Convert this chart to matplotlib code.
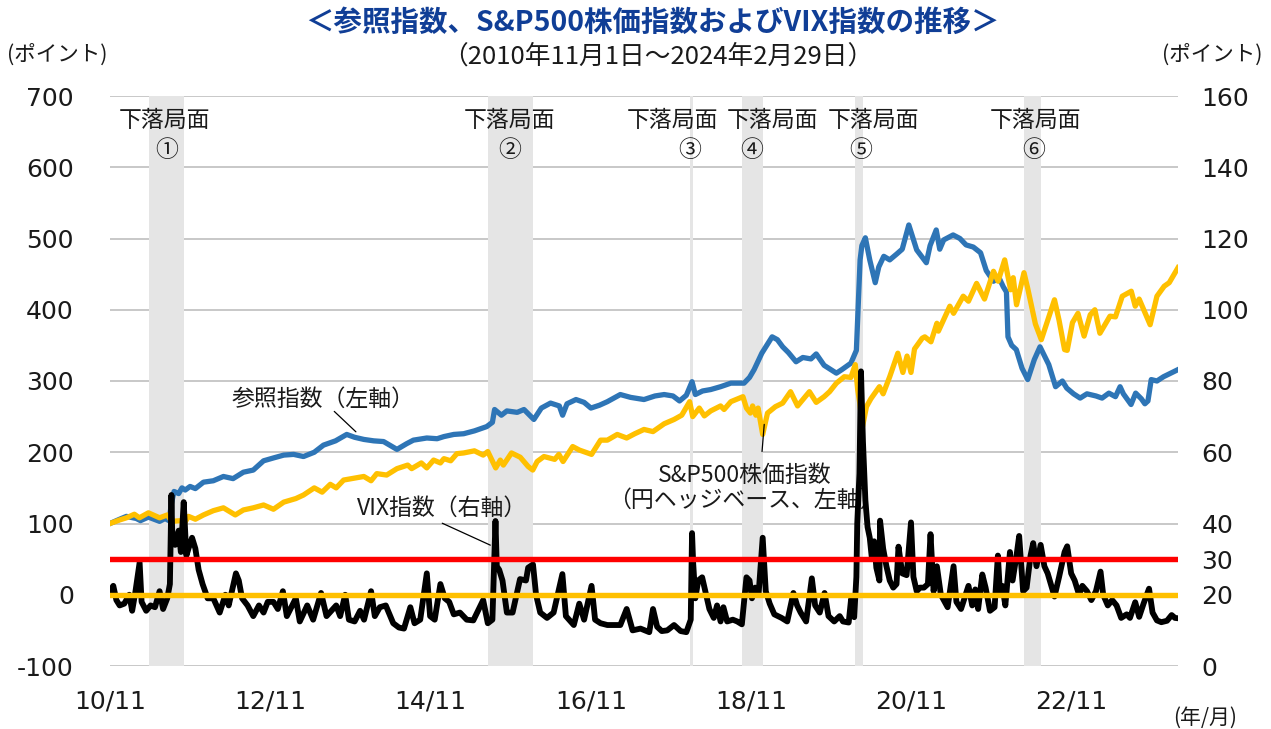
import matplotlib
matplotlib.use("Agg")
import matplotlib.pyplot as plt
import matplotlib.dates as mdates
import matplotlib.transforms as mtransforms
import pandas as pd

# ---------------- data ----------------
ref_dates = ["2010-11-01","2010-12-15","2011-01-15","2011-03-01","2011-03-20","2011-04-25","2011-06-15","2011-07-10",
             "2011-07-28","2011-08-08","2011-08-20","2011-09-10","2011-09-25","2011-10-10","2011-11-01","2011-11-25",
             "2012-01-01","2012-02-15","2012-04-01","2012-05-15","2012-07-01","2012-08-15","2012-10-01","2012-11-15",
             "2013-01-01","2013-02-15","2013-04-01","2013-05-20","2013-07-01","2013-08-25","2013-10-15","2013-11-20",
             "2014-01-01","2014-02-15","2014-04-01","2014-06-01","2014-07-15","2014-08-15","2014-10-15","2014-12-01",
             "2015-01-01","2015-02-15","2015-04-01","2015-05-20","2015-07-15","2015-08-10","2015-08-20","2015-09-20",
             "2015-10-15","2015-12-01","2016-01-01","2016-02-15","2016-03-20","2016-05-01","2016-06-10","2016-06-25",
             "2016-07-15","2016-08-25","2016-10-01","2016-11-01","2016-12-10","2017-01-15","2017-03-15","2017-05-01",
             "2017-07-01","2017-08-20","2017-10-01","2017-11-10","2017-12-10","2018-01-10","2018-02-05","2018-02-20",
             "2018-03-25","2018-05-01","2018-06-15","2018-08-01","2018-09-30","2018-10-25","2018-11-15","2018-12-20",
             "2019-01-20","2019-02-05","2019-03-01","2019-03-25","2019-04-20","2019-05-25","2019-06-25","2019-08-01",
             "2019-08-25","2019-09-30","2019-11-25","2019-12-20","2020-01-30","2020-02-24","2020-03-05","2020-03-12",
             "2020-03-20","2020-04-05","2020-04-25","2020-05-20","2020-06-05","2020-06-28","2020-07-25","2020-08-25",
             "2020-09-20","2020-10-20","2020-11-25","2021-01-08","2021-01-25","2021-02-22","2021-03-10","2021-03-28",
             "2021-05-10","2021-06-10","2021-07-08","2021-08-10","2021-09-12","2021-10-08","2021-11-10","2021-12-05",
             "2021-12-25","2022-01-08","2022-01-15","2022-02-01","2022-02-22","2022-03-20","2022-04-15","2022-05-15",
             "2022-06-10","2022-07-01","2022-07-20","2022-08-20","2022-09-20","2022-10-10","2022-11-10","2022-12-10",
             "2023-01-10","2023-02-20","2023-03-20","2023-04-20","2023-05-20","2023-06-10","2023-06-25","2023-07-30",
             "2023-08-20","2023-09-15","2023-10-01","2023-10-15","2023-10-30","2023-11-25","2023-12-25","2024-01-20",
             "2024-02-29"]
ref_values = [100,106,110,107,104,109,103,107,
              104,128,145,142,150,147,152,149,
              158,160,166,163,172,175,188,192,
              196,197,194,200,210,216,225,221,
              218,216,215,204,212,217,220,219,
              222,225,226,230,236,242,260,252,
              258,256,260,246,262,269,265,252,
              268,274,270,262,266,271,281,277,
              274,279,281,279,272,280,299,281,
              286,288,292,297,297,305,316,339,
              354,362,358,348,340,327,333,331,
              338,322,311,316,325,343,420,470,
              490,501,470,438,460,475,470,478,
              485,519,484,466,490,512,485,498,
              505,500,491,488,480,455,440,445,
              432,425,362,350,344,318,302,330,
              348,335,323,292,300,290,282,276,
              282,279,276,283,278,292,282,267,
              283,275,268,272,302,300,306,310,
              316]

spx_dates = ["2010-11-01","2010-12-15","2011-01-15","2011-02-20","2011-03-15","2011-04-25","2011-06-15","2011-07-20",
             "2011-08-10","2011-09-20","2011-10-05","2011-10-25","2011-11-25","2012-01-01","2012-02-15","2012-04-01",
             "2012-05-25","2012-07-01","2012-08-15","2012-10-01","2012-11-15","2013-01-01","2013-02-25","2013-04-01",
             "2013-05-20","2013-06-25","2013-08-01","2013-08-28","2013-10-01","2013-11-25","2014-01-01","2014-02-03",
             "2014-03-01","2014-04-15","2014-06-01","2014-07-20","2014-08-07","2014-09-20","2014-10-15","2014-11-15",
             "2014-12-16","2015-01-01","2015-02-01","2015-03-01","2015-04-01","2015-05-20","2015-06-29","2015-07-20",
             "2015-08-25","2015-09-15","2015-09-29","2015-11-05","2015-12-15","2016-01-20","2016-02-10","2016-03-01",
             "2016-04-01","2016-05-20","2016-06-08","2016-06-27","2016-08-10","2016-09-10","2016-11-04","2016-12-15",
             "2017-01-15","2017-03-01","2017-04-13","2017-05-20","2017-07-01","2017-08-11","2017-10-01","2017-11-15",
             "2017-12-20","2018-01-25","2018-02-08","2018-03-10","2018-04-02","2018-05-01","2018-06-15","2018-07-01",
             "2018-08-01","2018-09-25","2018-10-11","2018-10-29","2018-11-08","2018-11-23","2018-12-03","2018-12-24",
             "2019-01-15","2019-02-20","2019-03-25","2019-04-30","2019-06-01","2019-07-25","2019-08-25","2019-09-30",
             "2019-10-25","2019-11-25","2019-12-31","2020-01-30","2020-02-19","2020-03-01","2020-03-10","2020-03-23",
             "2020-04-10","2020-04-30","2020-06-08","2020-06-25","2020-07-25","2020-08-31","2020-09-23","2020-10-12",
             "2020-10-30","2020-11-15","2020-12-20","2021-01-01","2021-01-29","2021-02-25","2021-03-04","2021-04-25",
             "2021-05-12","2021-06-25","2021-07-19","2021-08-25","2021-09-30","2021-11-10","2021-12-01","2021-12-31",
             "2022-01-27","2022-02-08","2022-02-23","2022-03-29","2022-04-15","2022-05-20","2022-06-16","2022-07-20",
             "2022-08-15","2022-09-05","2022-09-30","2022-10-12","2022-11-05","2022-11-30","2022-12-28","2023-01-25",
             "2023-02-15","2023-03-10","2023-04-25","2023-05-20","2023-06-20","2023-07-31","2023-08-18","2023-09-05",
             "2023-10-25","2023-11-25","2023-12-28","2024-01-20","2024-02-29"]
spx_values = [100,105,108,113,108,115,108,112,
              103,104,100,110,106,112,118,122,
              112,119,122,126,120,130,135,140,
              150,144,155,150,161,164,166,160,
              170,168,177,182,177,185,178,189,
              185,191,188,198,199,202,196,201,
              178,189,182,199,193,180,175,187,
              194,190,197,187,208,203,197,217,
              217,225,220,226,232,229,240,246,
              252,271,250,262,251,258,265,260,
              271,278,262,255,265,252,262,225,
              255,264,269,285,265,285,270,278,
              285,297,306,305,323,288,270,236,
              264,275,292,282,306,339,312,335,
              312,345,360,362,355,381,370,405,
              395,419,412,437,415,454,440,470,
              428,445,407,452,430,380,358,390,
              414,385,344,343,382,395,363,393,
              400,367,391,390,419,426,405,415,
              379,419,433,438,459]

vix_dates = ["2010-11-01","2010-11-16","2010-11-30","2010-12-15","2011-01-05","2011-01-28","2011-02-10","2011-02-24",
             "2011-03-16","2011-03-25","2011-04-15","2011-05-05","2011-05-25","2011-06-15","2011-07-01","2011-07-20",
             "2011-08-01","2011-08-08","2011-08-12","2011-08-25","2011-09-10","2011-09-20","2011-10-03","2011-10-15",
             "2011-10-25","2011-11-10","2011-11-25","2011-12-10","2011-12-28","2012-01-20","2012-02-15","2012-03-15",
             "2012-04-10","2012-04-25","2012-05-28","2012-06-10","2012-06-25","2012-07-20","2012-08-15","2012-09-10",
             "2012-10-01","2012-10-20","2012-11-15","2012-12-05","2012-12-28","2013-01-15","2013-02-25","2013-03-15",
             "2013-04-18","2013-05-15","2013-06-20","2013-07-15","2013-08-28","2013-09-15","2013-10-08","2013-10-25",
             "2013-11-20","2013-12-15","2014-01-02","2014-02-03","2014-02-20","2014-03-15","2014-04-11","2014-05-15",
             "2014-06-10","2014-07-03","2014-08-01","2014-08-20","2014-09-15","2014-10-15","2014-10-30","2014-11-20",
             "2014-12-16","2015-01-05","2015-01-25","2015-02-15","2015-03-15","2015-04-15","2015-05-15","2015-06-29",
             "2015-07-20","2015-08-10","2015-08-24","2015-08-30","2015-09-10","2015-09-25","2015-10-15","2015-11-10",
             "2015-12-14","2016-01-10","2016-01-20","2016-02-11","2016-02-25","2016-03-15","2016-04-15","2016-05-15",
             "2016-06-24","2016-07-10","2016-08-15","2016-09-09","2016-10-01","2016-11-04","2016-11-20","2016-12-15",
             "2017-01-15","2017-02-15","2017-03-15","2017-04-13","2017-05-10","2017-06-15","2017-07-25","2017-08-11",
             "2017-08-30","2017-09-20","2017-10-15","2017-11-15","2017-12-15","2018-01-10","2018-01-30","2018-02-05",
             "2018-02-10","2018-02-20","2018-03-05","2018-03-23","2018-04-10","2018-04-25","2018-05-15","2018-05-30",
             "2018-06-15","2018-06-28","2018-07-15","2018-08-10","2018-08-30","2018-09-20","2018-10-11","2018-10-25",
             "2018-11-05","2018-11-20","2018-12-05","2018-12-24","2019-01-07","2019-01-25","2019-02-15","2019-03-20",
             "2019-04-15","2019-05-13","2019-05-30","2019-06-15","2019-07-10","2019-08-05","2019-08-20","2019-09-10",
             "2019-10-02","2019-10-20","2019-11-15","2019-12-10","2019-12-25","2020-01-20","2020-01-31","2020-02-14",
             "2020-02-24","2020-02-28","2020-03-09","2020-03-16","2020-03-25","2020-04-05","2020-04-15","2020-04-25",
             "2020-05-05","2020-05-15","2020-05-25","2020-06-08","2020-06-11","2020-06-25","2020-07-10","2020-07-25",
             "2020-08-10","2020-08-25","2020-09-03","2020-09-20","2020-10-10","2020-10-30","2020-11-10","2020-11-25",
             "2020-12-10","2020-12-28","2021-01-15","2021-01-27","2021-02-10","2021-02-25","2021-03-15","2021-04-15",
             "2021-05-12","2021-05-25","2021-06-15","2021-07-19","2021-08-05","2021-08-19","2021-09-01","2021-09-20",
             "2021-10-05","2021-10-25","2021-11-15","2021-11-30","2021-12-10","2021-12-20","2022-01-03","2022-01-24",
             "2022-02-05","2022-02-23","2022-03-07","2022-03-25","2022-04-10","2022-04-28","2022-05-10","2022-05-25",
             "2022-06-13","2022-06-30","2022-07-15","2022-08-15","2022-09-05","2022-09-30","2022-10-12","2022-10-30",
             "2022-11-15","2022-12-05","2022-12-20","2023-01-10","2023-01-30","2023-02-20","2023-03-13","2023-03-25",
             "2023-04-15","2023-05-05","2023-05-25","2023-06-15","2023-07-10","2023-07-25","2023-08-18","2023-09-05",
             "2023-09-25","2023-10-20","2023-11-05","2023-11-25","2023-12-15","2024-01-10","2024-01-31","2024-02-15",
             "2024-02-29"]
vix_values = [21,22.5,18.5,17,17.5,20,15.5,20.5,
              29,18,15.5,17,16.5,21,16,19,
              23,48,36,34,38,32,46,31,
              33,36,33,27,23,19,19,15,
              20,17,26,24,19,17,14,17,
              15,18,18,16,21,14,19,12.5,
              17,13,20.5,14,17,14,20,13,
              12.5,15.5,13,21,14,16.5,17,12,
              10.8,10.5,16.5,12,13,26,14,13,
              23,19,18,14.5,15,13,12.8,18.5,
              12,13,40.7,28,27,24,15,15,
              24.4,24,27.6,28.5,20,15,13.5,15,
              25.8,14,11.5,17.5,13,22.5,13,12,
              11.5,11.5,11.5,16,10,10.5,9.5,16,
              11,9.8,10,11.5,9.8,9.5,13,37.3,
              29,19,24,24.9,20,16,13.5,17,
              12.5,16.5,12.5,13,12.5,11.7,24.9,24,
              19,22,20,36,21,17.5,14.5,13.5,
              12.5,20.5,17,15,12.5,24.6,17,15,
              20.5,14,12.5,14,12.5,12.2,18.8,13.7,
              25,40,54,82.7,63,46.6,39,36,
              30,35,27.6,24,40.8,33,28,24,
              22,23,33.5,26,25.5,40.3,25,21,
              22,22,23,37,21,28,20,16.5,
              28,18,16,22.5,17,21.5,16,25.7,
              22,15.5,16.5,31,20,22.5,17,32,
              24,31,36.5,21,22,31,34.5,28,
              34,28,26,19.5,25,32,33.6,26,
              24,20,22.5,21,18.5,21,26.5,20,
              17,18.5,17,13.5,14.5,13.5,17.9,13.8,
              17.5,21.7,15,12.8,12.3,12.7,14.3,13.5,
              13.4]

decline_starts = ["2011-04-27","2015-07-20","2018-01-26","2018-09-20","2020-02-19","2022-03-29"]
decline_ends   = ["2011-10-04","2016-02-11","2018-02-08","2018-12-24","2020-03-23","2022-06-16"]
decline_marks  = ["①","②","③","④","⑤","⑥"]

left_ticks = [-100, 0, 100, 200, 300, 400, 500, 600, 700]
right_ticks = [0, 20, 30, 40, 60, 80, 100, 120, 140, 160]
x_ticks = ["2010-11-01","2012-11-01","2014-11-01","2016-11-01","2018-11-01","2020-11-01","2022-11-01"]
vix_ref_levels = [30, 20]

# ---------------- figure ----------------
W, H = 1271, 729
plt.rcParams["font.family"] = ["DejaVu Sans", "Noto Sans CJK JP"]
plt.rcParams["axes.unicode_minus"] = False
fig = plt.figure(figsize=(W / 100, H / 100), dpi=100)
JP = ["Noto Sans CJK JP", "DejaVu Sans"]

ax = fig.add_axes([110 / W, 63 / H, 1068 / W, 570 / H])
ax2 = ax.twinx()

td = lambda s: pd.to_datetime(s)

# bands
for s, e in zip(decline_starts, decline_ends):
    ax.axvspan(td(s), td(e), color="#E5E5E5", lw=0, zorder=1)

ax.plot(td(ref_dates), ref_values, color="#2E75B6", lw=3.8, zorder=3, solid_joinstyle="round")
ax.plot(td(spx_dates), spx_values, color="#FFC000", lw=3.8, zorder=3, solid_joinstyle="round")

ax2.plot(td(vix_dates), vix_values, color="black", lw=4.2, zorder=2, solid_joinstyle="round")
ax2.axhline(vix_ref_levels[0], color="#FF0000", lw=3.9, zorder=3)
ax2.axhline(vix_ref_levels[1], color="#FFC000", lw=3.9, zorder=3)

ax.set_xlim(td("2010-11-01"), td("2024-02-29"))
ax.set_ylim(-100, 700)
ax.set_yticks(left_ticks)
ax2.set_ylim(0, 160)
ax2.set_yticks(right_ticks)
ax.set_xticks(td(x_ticks))
ax.xaxis.set_major_formatter(mdates.DateFormatter("%y/%m"))

ax.grid(axis="y", color="#BFBFBF", lw=1.2)
ax.grid(axis="x", visible=False)
ax.set_axisbelow(True)
for a in (ax, ax2):
    for sp in a.spines.values():
        sp.set_visible(False)
ax.tick_params(axis="y", length=0, pad=26, labelsize=18, labelcolor="#1a1a1a")
ax.tick_params(axis="x", length=0, pad=17, labelsize=18, labelcolor="#1a1a1a")
ax2.tick_params(axis="y", length=0, pad=17, labelsize=18, labelcolor="#1a1a1a")

# decline phase labels
trans = mtransforms.blended_transform_factory(ax.transData, ax.transAxes)
label_x = ["2011-07-08", "2015-10-29", "2017-11-10", "2019-02-05", "2020-05-12", "2022-05-19"]
mark_x = ["2011-07-17", "2015-10-29", "2018-01-27", "2018-11-05", "2020-03-13", "2022-05-10"]
for lx, mx, mk in zip(label_x, mark_x, decline_marks):
    ax2.text(td(lx), 0.9565, "下落局面", transform=trans, ha="center", va="center",
             fontsize=16.5, family=JP, color="#1a1a1a")
    ax2.text(td(mx), 0.904, mk, transform=trans, ha="center", va="center",
             fontsize=16.5, family=JP, color="#1a1a1a")

# series annotations (in left-axis units)
ax.text(td("2013-06-28"), 274, "参照指数（左軸）", ha="center", va="center",
        fontsize=16.5, family=JP, color="#1a1a1a", zorder=6)
ax.annotate("", xy=(td("2013-12-05"), 226), xytext=(td("2013-08-10"), 260),
            arrowprops=dict(arrowstyle="-", color="black", lw=0.9), zorder=6)

ax.text(td("2014-12-25"), 122, "VIX指数（右軸）", ha="center", va="center",
        fontsize=16.5, family=JP, color="#1a1a1a", zorder=6)
ax.annotate("", xy=(td("2015-08-12"), 68), xytext=(td("2014-12-13"), 102),
            arrowprops=dict(arrowstyle="-", color="black", lw=0.9), zorder=6)

ax.text(td("2018-10-05"), 150, "S&P500株価指数\n（円ヘッジベース、左軸）", ha="center", va="center",
        fontsize=16.5, family=JP, color="#1a1a1a", linespacing=1.15, zorder=6)
ax.annotate("", xy=(td("2019-01-01"), 243), xytext=(td("2018-12-20"), 197),
            arrowprops=dict(arrowstyle="-", color="black", lw=0.9), zorder=6)

# titles
fig.text(652 / W, 1 - 23 / H, "＜参照指数、S&P500株価指数およびVIX指数の推移＞", ha="center", va="center",
         fontsize=20.5, fontweight="bold", family=JP, color="#103E96")
fig.text(658 / W, 1 - 57 / H, "（2010年11月1日～2024年2月29日）", ha="center", va="center",
         fontsize=18.5, family=JP, color="#1a1a1a")
fig.text(57 / W, 1 - 55 / H, "(ポイント)", ha="center", va="center", fontsize=15.5, family=JP, color="#1a1a1a")
fig.text(1212 / W, 1 - 55 / H, "(ポイント)", ha="center", va="center", fontsize=15.5, family=JP, color="#1a1a1a")
fig.text(1205 / W, 1 - 718 / H, "(年/月)", ha="center", va="center", fontsize=15, family=JP, color="#1a1a1a")

fig.savefig("out.png", dpi=100)
